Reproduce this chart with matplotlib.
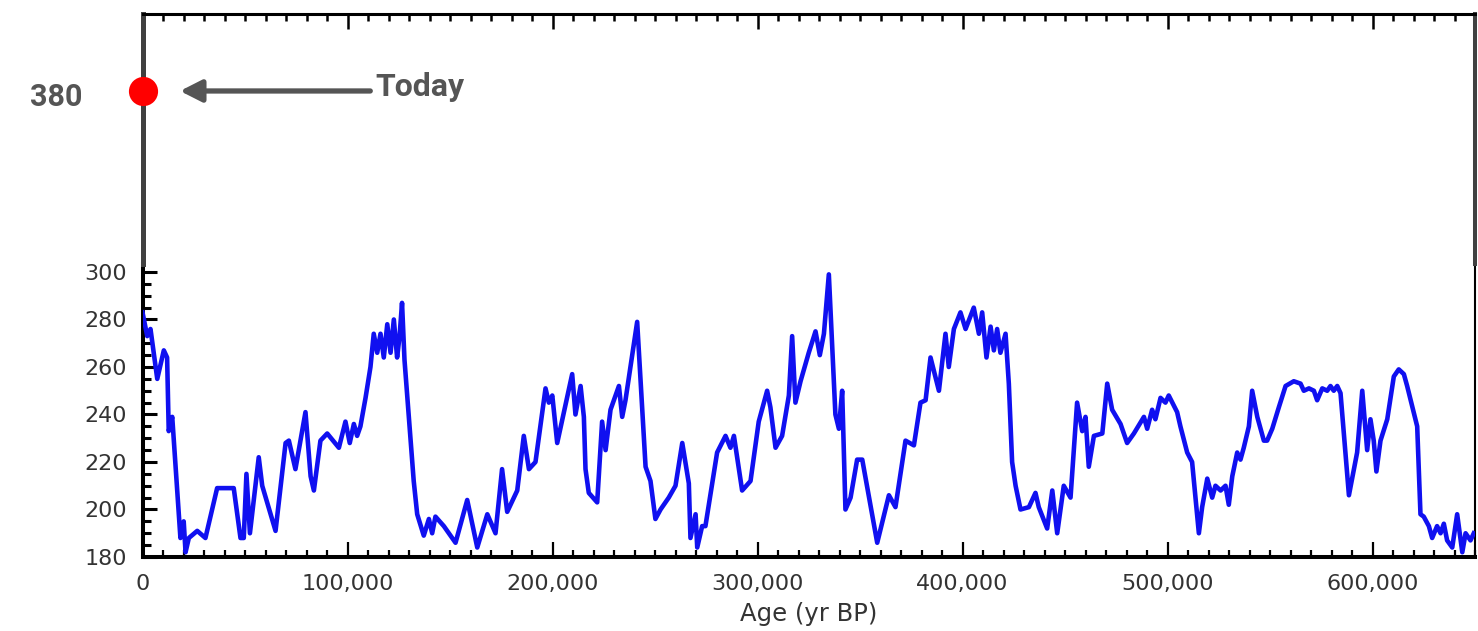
import matplotlib
matplotlib.use("Agg")
import matplotlib.pyplot as plt
from matplotlib.ticker import MultipleLocator, FuncFormatter

age = [0, 2300, 3900, 7200, 10400, 12000, 12800, 14500, 18500, 20100,
       21000, 22600, 26700, 30700, 36400, 44500, 47800, 49400, 50700, 52400,
       56700, 58400, 64900, 69800, 71400, 74600, 79500, 82000, 83600, 86800,
       90100, 95800, 99000, 101100, 103100, 104700, 106300, 108800, 111200, 112800,
       114500, 116100, 117700, 119400, 121000, 122600, 124200, 125400, 126600, 127800,
       132300, 134000, 137200, 139700, 141300, 142900, 147000, 152700, 158400, 163300,
       168200, 172200, 175400, 177900, 182800, 186000, 188500, 191700, 196600, 198200,
       199900, 202300, 209600, 211200, 213700, 215300, 216100, 217700, 221800, 224200,
       225900, 228300, 232400, 234000, 235600, 241300, 245400, 247800, 250200, 252700,
       256700, 260000, 263300, 266500, 267300, 269800, 270600, 273000, 274600, 280300,
       284400, 286800, 288500, 292500, 296600, 300600, 304700, 306300, 308800, 312000,
       315300, 316900, 318500, 321000, 325000, 328300, 330400, 332400, 334800, 338000,
       339700, 341300, 342900, 345400, 348600, 351100, 358400, 364100, 367300, 372200,
       376300, 379500, 382000, 384400, 388500, 391700, 393300, 395800, 399000, 401500,
       405500, 408000, 409600, 411700, 413700, 415300, 416900, 418500, 421000, 422600,
       424200, 425900, 428300, 432400, 435600, 437200, 441300, 443800, 446200, 449400,
       452700, 455900, 458400, 460000, 461600, 464100, 468200, 470600, 473000, 477100,
       480300, 483600, 488500, 490100, 492500, 494100, 496600, 499000, 500600, 504700,
       506300, 509600, 512000, 515300, 516900, 519400, 521800, 523400, 525900, 528300,
       529900, 531600, 534000, 535600, 537200, 539700, 541300, 543800, 547000, 548600,
       551100, 554300, 557600, 561600, 564900, 566500, 569000, 571400, 573000, 575500,
       577900, 579500, 581100, 582800, 584400, 588500, 592500, 595000, 597400, 599000,
       600600, 601900, 603900, 607200, 610400, 612800, 615300, 616900, 621800, 623400,
       625000, 627500, 629100, 631500, 633200, 634800, 636400, 638900, 641300, 643800,
       645400, 647800, 649400]

co2 = [283, 273, 276, 255, 267, 264, 233, 239, 188, 195,
       182, 188, 191, 188, 209, 209, 188, 188, 215, 190,
       222, 210, 191, 228, 229, 217, 241, 214, 208, 229,
       232, 226, 237, 228, 236, 231, 235, 247, 260, 274,
       266, 274, 264, 278, 266, 280, 264, 273, 287, 263,
       212, 198, 189, 196, 190, 197, 193, 186, 204, 184,
       198, 190, 217, 199, 208, 231, 217, 220, 251, 245,
       248, 228, 257, 240, 252, 239, 217, 207, 203, 237,
       225, 242, 252, 239, 246, 279, 218, 212, 196, 200,
       205, 210, 228, 211, 188, 198, 184, 193, 193, 224,
       231, 226, 231, 208, 212, 237, 250, 243, 226, 231,
       248, 273, 245, 254, 266, 275, 265, 274, 299, 240,
       234, 250, 200, 205, 221, 221, 186, 206, 201, 229,
       227, 245, 246, 264, 250, 274, 260, 276, 283, 276,
       285, 274, 283, 264, 277, 267, 276, 266, 274, 253,
       220, 210, 200, 201, 207, 201, 192, 208, 190, 210,
       205, 245, 233, 239, 218, 231, 232, 253, 242, 236,
       228, 232, 239, 234, 242, 238, 247, 245, 248, 241,
       235, 224, 220, 190, 201, 213, 205, 210, 208, 210,
       202, 214, 224, 221, 226, 235, 250, 239, 229, 229,
       234, 243, 252, 254, 253, 250, 251, 250, 246, 251,
       250, 252, 250, 252, 249, 206, 224, 250, 225, 238,
       229, 216, 229, 238, 256, 259, 257, 252, 235, 198,
       197, 193, 188, 193, 190, 194, 187, 184, 198, 182,
       190, 187, 190]

today_age = 0
today_co2 = 380
today_label = "Today"
xlabel = "Age (yr BP)"

W, H = 1478, 631
fig = plt.figure(figsize=(W / 100, H / 100), dpi=100)
fig.patch.set_facecolor("white")

left = 142.5 / W
width = (1475 - 142.5) / W
y_bot = (H - 557) / H
y_mid = (H - 264) / H
y_top = (H - 13.5) / H

ax = fig.add_axes([left, y_bot, width, y_mid - y_bot])
axu = fig.add_axes([left, y_mid, width, y_top - y_mid])

txt = "#333333"

# --- lower data panel ---
ax.plot(age, co2, color="#1010f0", lw=3.3, solid_joinstyle="round", zorder=3)
ax.set_xlim(0, 650000)
ax.set_ylim(180, 300 + 8 / 2.375)
ax.xaxis.set_major_locator(MultipleLocator(100000))
ax.xaxis.set_minor_locator(MultipleLocator(10000))
ax.yaxis.set_minor_locator(MultipleLocator(5))
ax.xaxis.set_major_formatter(FuncFormatter(lambda v, p: f"{int(v):,}"))
ax.set_yticks([v for v in range(180, 301, 20)])
ax.tick_params(axis="x", which="major", direction="in", length=11, width=1.6,
               colors="black", labelcolor=txt, labelsize=16, pad=12)
ax.tick_params(axis="x", which="minor", direction="in", length=5, width=1.6, colors="black")
ax.tick_params(axis="y", which="major", direction="in", length=10, width=2.2,
               colors="black", labelcolor=txt, labelsize=16, pad=11)
ax.tick_params(axis="y", which="minor", direction="in", length=6, width=2.2, colors="black")
ax.spines["top"].set_visible(False)
ax.spines["left"].set_linewidth(2.9)
ax.spines["bottom"].set_linewidth(2.9)
ax.spines["right"].set_linewidth(1.5)
for s in ax.spines.values():
    s.set_color("black")
ax.set_xlabel(xlabel, fontsize=17.5, color=txt, labelpad=6)

# --- upper annotation panel ---
axu.set_xlim(0, 650000)
axu.set_ylim(307.2, 412.6)
axu.xaxis.set_major_locator(MultipleLocator(100000))
axu.xaxis.set_minor_locator(MultipleLocator(10000))
axu.xaxis.tick_top()
axu.tick_params(axis="x", which="major", direction="in", length=11, width=1.8,
                labeltop=False, labelbottom=False, colors="black")
axu.tick_params(axis="x", which="minor", direction="in", length=5, width=1.8, colors="black")
axu.set_yticks([])
axu.spines["bottom"].set_visible(False)
axu.spines["top"].set_linewidth(2.2)
axu.spines["top"].set_color("black")
axu.spines["left"].set_linewidth(3.6)
axu.spines["left"].set_color("#404040")
axu.spines["right"].set_linewidth(2.9)
axu.spines["right"].set_color("#404040")

axu.plot([today_age], [today_co2], "o", color="#ff0000", ms=21, mec="none",
         clip_on=False, zorder=5)
axu.annotate(f"{today_co2}", xy=(today_age, today_co2), xytext=(-43, -4.5),
             textcoords="offset points", ha="right", va="center",
             fontsize=22, fontweight="semibold", color="#555555",
             family=["Roboto", "DejaVu Sans"], annotation_clip=False)
axu.annotate("", xy=(today_age, today_co2), xytext=(164, 0),
             textcoords="offset points",
             arrowprops=dict(arrowstyle="-|>,head_length=0.65,head_width=0.33",
                             mutation_scale=20, lw=3.8, color="#555555",
                             shrinkA=0, shrinkB=27),
             annotation_clip=False)
axu.annotate(today_label, xy=(today_age, today_co2), xytext=(168, -3.6),
             textcoords="offset points", ha="left", va="baseline",
             fontsize=23, fontweight="bold", color="#555555",
             family=["Roboto", "DejaVu Sans"], annotation_clip=False)

fig.savefig("out.png", dpi=100, facecolor="white")
